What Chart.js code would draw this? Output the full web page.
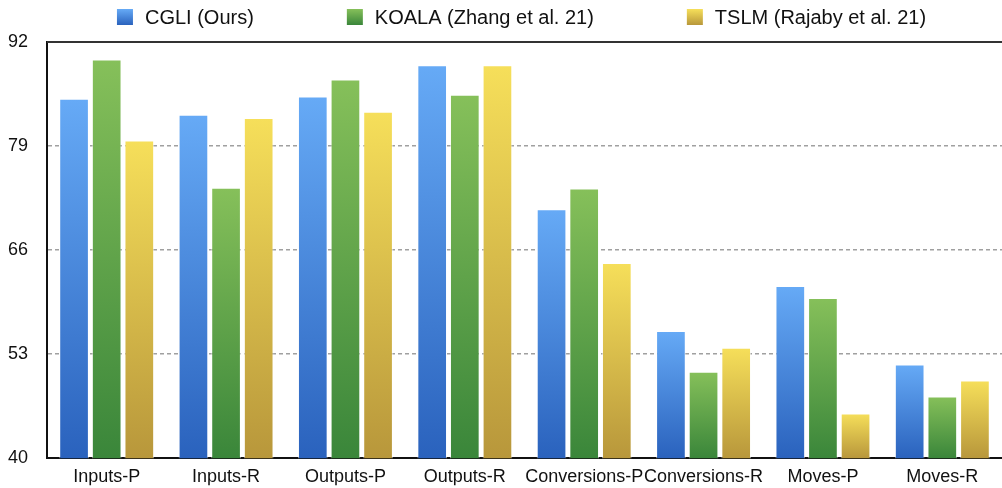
<!DOCTYPE html>
<html>
<head>
<meta charset="utf-8">
<script src="https://cdn.jsdelivr.net/npm/chart.js@4/dist/chart.umd.min.js"></script>
<style>
  html, body { margin: 0; padding: 0; background: #fff; }
  #wrap { width: 1002px; height: 488px; position: relative; }
</style>
</head>
<body>
<div id="wrap"><canvas id="resultsChart"></canvas></div>
<script>
const categories = ['Inputs-P', 'Inputs-R', 'Outputs-P', 'Outputs-R', 'Conversions-P', 'Conversions-R', 'Moves-P', 'Moves-R'];
const seriesNames = ['CGLI (Ours)', 'KOALA (Zhang et al. 21)', 'TSLM (Rajaby et al. 21)'];
const cgliValues = [84.9, 82.9, 85.2, 89.1, 71.1, 55.9, 61.5, 51.7];
const koalaValues = [89.8, 73.8, 87.3, 85.4, 73.7, 50.8, 60.0, 47.7];
const tslmValues = [79.7, 82.5, 83.3, 89.1, 64.4, 53.8, 45.6, 49.7];
const yTicks = [40, 53, 66, 79, 92];

// top / bottom colours of each series' gradient
const palette = [
    ['#66aaf6', '#2a62bd'],
    ['#86c05a', '#3a863a'],
    ['#f6df5a', '#b8973b']
];

const FONT = '"Liberation Sans", Arial, Helvetica, sans-serif';

function barGradient(colors) {
    return function(ctx) {
        const chart = ctx.chart;
        const ys = chart.scales.y;
        if (!ys || ctx.raw == null) return colors[0];
        const top = ys.getPixelForValue(ctx.raw);
        const bottom = ys.getPixelForValue(ys.min);
        if (!isFinite(top) || !isFinite(bottom) || top === bottom) return colors[0];
        const g = chart.ctx.createLinearGradient(0, top, 0, bottom);
        g.addColorStop(0, colors[0]);
        g.addColorStop(1, colors[1]);
        return g;
    };
}

// legend + top frame line
const framePlugin = {
    id: 'framePlugin',
    afterDraw(chart) {
        const c = chart.ctx;
        const area = chart.chartArea;

        // top border
        c.save();
        c.strokeStyle = '#333';
        c.lineWidth = 2;
        c.beginPath();
        c.moveTo(area.left, area.top);
        c.lineTo(area.right, area.top);
        c.stroke();
        c.restore();

        // legend
        const boxSize = 16, boxGap = 12, itemGap = 93;
        c.save();
        c.font = '20px ' + FONT;
        c.textBaseline = 'middle';
        const widths = seriesNames.map(n => boxSize + boxGap + c.measureText(n).width);
        const total = widths.reduce((a, b) => a + b, 0) + itemGap * (widths.length - 1);
        let x = (area.left + area.right) / 2 - 3 - total / 2;
        const cy = 17;
        seriesNames.forEach((name, i) => {
            const g = c.createLinearGradient(0, cy - boxSize / 2, 0, cy + boxSize / 2);
            g.addColorStop(0, palette[i][0]);
            g.addColorStop(1, palette[i][1]);
            c.fillStyle = g;
            c.fillRect(x, cy - boxSize / 2, boxSize, boxSize);
            c.fillStyle = '#111';
            c.fillText(name, x + boxSize + boxGap, cy + 1);
            x += widths[i] + itemGap;
        });
        c.restore();
    }
};

const datasets = [cgliValues, koalaValues, tslmValues].map((vals, i) => ({
    label: seriesNames[i],
    data: vals,
    backgroundColor: barGradient(palette[i]),
    borderColor: 'rgba(255,255,255,0.55)',
    borderWidth: 1,
    categoryPercentage: 0.82,
    barPercentage: 0.91
}));

const ctx = document.getElementById('resultsChart').getContext('2d');
const resultsChart = new Chart(ctx, {
    type: 'bar',
    data: {
        labels: categories,
        datasets: datasets
    },
    plugins: [framePlugin],
    options: {
        responsive: true,
        maintainAspectRatio: false,
        animation: false,
        layout: {
            padding: { top: 42, left: 6, right: 0, bottom: 0 }
        },
        plugins: {
            legend: { display: false },
            tooltip: { enabled: false }
        },
        scales: {
            x: {
                afterFit(scale) { scale.height = 27; },
                grid: { display: false, drawTicks: false },
                border: { display: true, color: '#111', width: 2 },
                ticks: {
                    color: '#111',
                    padding: 8,
                    maxRotation: 0,
                    autoSkip: false,
                    font: { family: FONT, size: 18 }
                }
            },
            y: {
                min: 40,
                max: 92,
                afterFit(scale) { scale.width = 41; },
                afterBuildTicks(scale) {
                    scale.ticks = yTicks.map(v => ({ value: v }));
                },
                grid: {
                    drawTicks: false,
                    lineWidth: 1.5,
                    color(c) {
                        const v = c.tick && c.tick.value;
                        return (v === 40 || v === 92) ? 'rgba(0,0,0,0)' : '#a0a0a0';
                    }
                },
                border: { display: true, color: '#111', width: 2, dash: [4, 3] },
                ticks: {
                    color: '#111',
                    padding: 19,
                    font: { family: FONT, size: 18 }
                }
            }
        }
    }
});
</script>
</body>
</html>
